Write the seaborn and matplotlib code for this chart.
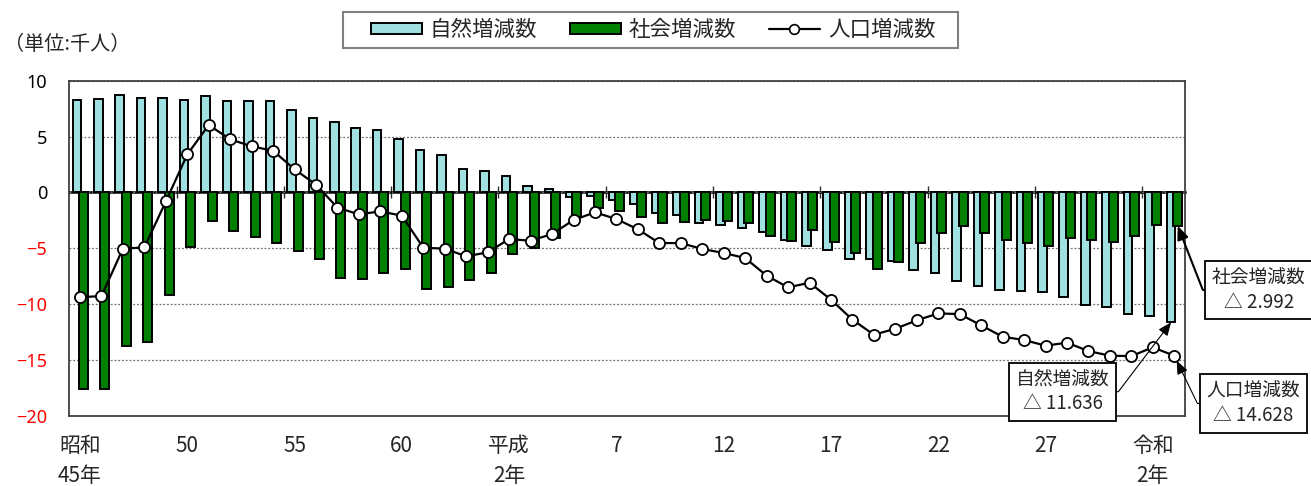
import matplotlib
matplotlib.use("Agg")
import matplotlib.pyplot as plt
from matplotlib.patches import Patch, Rectangle
from matplotlib.lines import Line2D
import seaborn as sns
import pandas as pd

# 昭和45年(1970) .. 令和3年(2021), 単位: 千人
natural = [8.27, 8.33, 8.72, 8.48, 8.42, 8.30, 8.63, 8.21, 8.15, 8.21,
           7.34, 6.69, 6.27, 5.73, 5.55, 4.78, 3.76, 3.37, 2.09, 1.94,
           1.43, 0.57, 0.33, -0.39, -0.30, -0.69, -1.07, -1.88, -2.03, -2.72,
           -2.93, -3.16, -3.55, -4.27, -4.78, -5.16, -5.97, -5.97, -6.12, -6.96,
           -7.25, -7.91, -8.36, -8.75, -8.81, -8.96, -9.40, -10.09, -10.30, -10.90,
           -11.07, -11.636]
social = [-17.64, -17.58, -13.73, -13.37, -9.19, -4.93, -2.60, -3.43, -3.97, -4.51,
          -5.25, -5.97, -7.64, -7.73, -7.19, -6.84, -8.69, -8.51, -7.82, -7.25,
          -5.55, -4.96, -4.12, -2.24, -1.43, -1.64, -2.18, -2.72, -2.63, -2.48,
          -2.54, -2.72, -3.88, -4.36, -3.37, -4.45, -5.46, -6.87, -6.21, -4.57,
          -3.67, -2.99, -3.61, -4.27, -4.51, -4.78, -4.06, -4.27, -4.42, -3.91,
          -2.93, -2.992]
population = [-9.40, -9.28, -5.04, -4.93, -0.81, 3.40, 6.03, 4.75, 4.12, 3.73,
              2.06, 0.69, -1.37, -1.97, -1.70, -2.09, -4.96, -5.04, -5.73, -5.37,
              -4.18, -4.33, -3.73, -2.48, -1.79, -2.39, -3.31, -4.54, -4.54, -5.07,
              -5.43, -5.88, -7.46, -8.51, -8.09, -9.61, -11.40, -12.75, -12.21, -11.46,
              -10.84, -10.90, -11.91, -12.93, -13.22, -13.73, -13.46, -14.21, -14.63, -14.66,
              -13.88, -14.628]

tick_labels = ["昭和\n45年", "50", "55", "60", "平成\n2年", "7", "12", "17", "22", "27", "令和\n2年"]
y_ticks = [10, 5, 0, -5, -10, -15, -20]
y_labels = ["10", "5", "0", "−5", "−10", "−15", "−20"]
series_names = ["自然増減数", "社会増減数", "人口増減数"]
notes = ["社会増減数\n△ 2.992", "自然増減数\n△ 11.636", "人口増減数\n△ 14.628"]

LIGHT = "#A0E0E0"
GREEN = "#008000"

sns.set_theme(style="white")
plt.rcParams["font.family"] = ["Noto Sans CJK JP", "DejaVu Sans"]

df = pd.DataFrame({"natural": natural, "social": social, "pop": population})
df["idx"] = range(len(df))
df["x_nat"] = df["idx"] - 0.15
df["x_soc"] = df["idx"] + 0.16

W, H = 1311, 486
fig = plt.figure(figsize=(W / 100, H / 100), dpi=100)
ax = fig.add_axes([69.3 / W, 1 - 415.7 / H, (1185 - 69.3) / W, (415.7 - 80.7) / H])

sns.barplot(data=df, x="x_nat", y="natural", native_scale=True, width=0.4,
            color=LIGHT, saturation=1, edgecolor="black", linewidth=1.4,
            errorbar=None, ax=ax, zorder=2)
sns.barplot(data=df, x="x_soc", y="social", native_scale=True, width=0.42,
            color=GREEN, saturation=1, edgecolor="black", linewidth=1.4,
            errorbar=None, ax=ax, zorder=3)
sns.lineplot(data=df, x="idx", y="pop", color="black", lw=1.6, marker="o",
             markersize=8, markerfacecolor="white", markeredgecolor="black",
             markeredgewidth=1.3, ax=ax, zorder=6)

ax.set_xlim(-0.5, len(df) - 0.5)
ax.set_ylim(-20, 10)
ax.set_xlabel("")
ax.set_ylabel("")

# y axis
ax.set_yticks(y_ticks)
ax.set_yticklabels(y_labels, family=["Noto Sans", "DejaVu Sans"], fontsize=13)
for lab, v in zip(ax.get_yticklabels(), y_ticks):
    lab.set_color("red" if v < 0 else "black")
ax.tick_params(axis="y", length=0, pad=16)
ax.yaxis.grid(True, linestyle=(0, (1.5, 1.5)), color="#707070", linewidth=0.9)
ax.xaxis.grid(False)
ax.set_axisbelow(True)

# x axis labels every 5 years
tick_pos = list(range(0, len(df), 5))
ax.set_xticks(tick_pos)
ax.set_xticklabels(tick_labels, fontsize=15, linespacing=1.45)
ax.tick_params(axis="x", length=0, pad=14)

for s in ax.spines.values():
    s.set_visible(True)
    s.set_color("#404040")
    s.set_linewidth(1.3)

# zero line with year-group tick marks
zero_frac = (0 - ax.get_ylim()[0]) / (ax.get_ylim()[1] - ax.get_ylim()[0])
sec = ax.secondary_xaxis(zero_frac)
sec.set_xticks([p - 0.5 for p in tick_pos[1:]])
sec.set_xticklabels([])
sec.tick_params(axis="x", direction="inout", length=8, width=1.0, color="#303030")
for s in sec.spines.values():
    s.set_color("black")
    s.set_linewidth(1.8)

# legend
handles = [Patch(facecolor=LIGHT, edgecolor="black", linewidth=1.4),
           Patch(facecolor=GREEN, edgecolor="black", linewidth=1.4),
           Line2D([], [], color="black", lw=1.6, marker="o", markersize=7,
                  markerfacecolor="white", markeredgecolor="black", markeredgewidth=1.2)]
fig.legend(handles, series_names, loc="center", bbox_to_anchor=(653 / W, 1 - 30 / H),
           ncol=3, frameon=False, fontsize=15.5, handlelength=2.4, handleheight=0.45,
           handletextpad=0.35, columnspacing=1.5)
fig.add_artist(Rectangle((343 / W, 1 - 48.3 / H), (958 - 343) / W, 36.6 / H,
                         transform=fig.transFigure, fill=False,
                         edgecolor="#808080", linewidth=1.5))

fig.text(4 / W, 1 - 45 / H, "（単位:千人）", ha="left", va="center", fontsize=14.5)

# call-out boxes
box = dict(boxstyle="square,pad=0.35", fc="white", ec="black", lw=1.3)
last = len(df) - 1
ax.annotate(notes[0], xy=(df["x_soc"].iloc[-1], social[-1]), xycoords="data",
            xytext=(1258.7, H - 290), textcoords="figure pixels",
            ha="center", va="center", fontsize=13.5, linespacing=1.2, bbox=box,
            arrowprops=dict(arrowstyle="-|>,head_length=0.6,head_width=0.25",
                            color="black", lw=1.5, relpos=(0, 0.5), shrinkA=0, shrinkB=0,
                            connectionstyle="arc,angleA=180,angleB=0,armA=9,armB=0,rad=0"),
            zorder=10)
ax.annotate(notes[1], xy=(df["x_nat"].iloc[-1], natural[-1]), xycoords="data",
            xytext=(1062.5, H - 391.7), textcoords="figure pixels",
            ha="center", va="center", fontsize=13.5, linespacing=1.2, bbox=box,
            arrowprops=dict(arrowstyle="-|>,head_length=0.6,head_width=0.25",
                            color="black", lw=0.8, relpos=(1, 0.5), shrinkA=0, shrinkB=0,
                            connectionstyle="arc,angleA=0,angleB=0,armA=9,armB=0,rad=0"),
            zorder=10)
ax.annotate(notes[2], xy=(last, population[-1]), xycoords="data",
            xytext=(1253.3, H - 403.5), textcoords="figure pixels",
            ha="center", va="center", fontsize=13.5, linespacing=1.2, bbox=box,
            arrowprops=dict(arrowstyle="-|>,head_length=0.6,head_width=0.25",
                            color="black", lw=0.8, relpos=(0, 0.5), shrinkA=0, shrinkB=4,
                            connectionstyle="arc,angleA=180,angleB=0,armA=9,armB=0,rad=0"),
            zorder=10)

fig.savefig("out.png", dpi=100)
